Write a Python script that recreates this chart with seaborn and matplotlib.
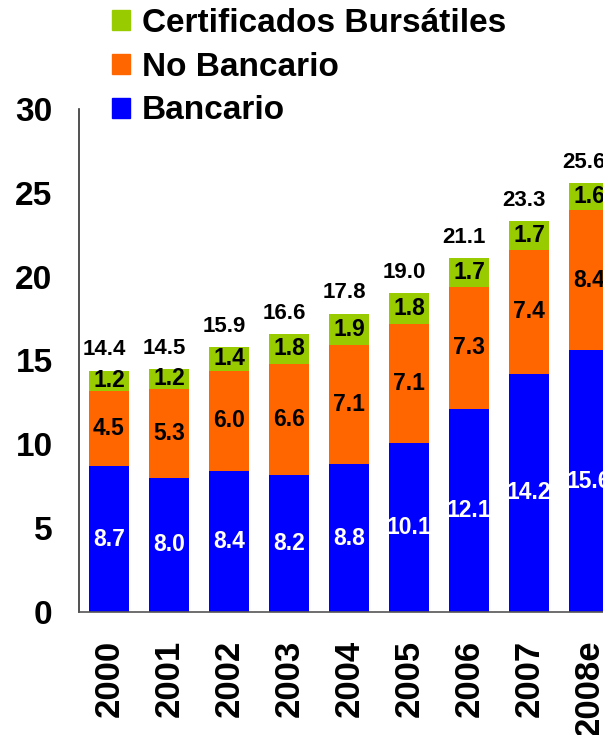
import pandas as pd
import numpy as np
import matplotlib
matplotlib.use("Agg")
import matplotlib.pyplot as plt
from matplotlib.patches import Patch
import seaborn as sns

# Données
annees = ["2000", "2001", "2002", "2003", "2004", "2005", "2006", "2007", "2008e"]
bancario = [8.7, 8.0, 8.4, 8.2, 8.8, 10.1, 12.1, 14.2, 15.6]
no_bancario = [4.5, 5.3, 6.0, 6.6, 7.1, 7.1, 7.3, 7.4, 8.4]
certificados = [1.2, 1.2, 1.4, 1.8, 1.9, 1.8, 1.7, 1.7, 1.6]
totales = [14.4, 14.5, 15.9, 16.6, 17.8, 19.0, 21.1, 23.3, 25.6]

col_cert = "#99CC00"
col_nob = "#FF6600"
col_ban = "#0000FF"

df = pd.DataFrame({
    "Año": annees,
    "Bancario": bancario,
    "No Bancario": no_bancario,
    "Certificados": certificados,
})
df["nivel2"] = df["Bancario"] + df["No Bancario"]
df["nivel3"] = df["nivel2"] + df["Certificados"]

sns.set_style("white")
plt.rcParams["font.family"] = ["Liberation Sans", "DejaVu Sans"]
plt.rcParams["font.weight"] = "bold"
plt.rcParams["text.color"] = "black"
plt.rcParams["xtick.labelcolor"] = "black"
plt.rcParams["ytick.labelcolor"] = "black"

fig = plt.figure(figsize=(6.03, 7.35), dpi=100)
ax = fig.add_axes([79 / 603, 123 / 735, 540 / 603, 503 / 735])

# Barres empilées (de l'arrière vers l'avant)
ancho = 0.68
sns.barplot(data=df, x="Año", y="nivel3", order=annees, color=col_cert,
            width=ancho, saturation=1, linewidth=0, ax=ax)
sns.barplot(data=df, x="Año", y="nivel2", order=annees, color=col_nob,
            width=ancho, saturation=1, linewidth=0, ax=ax)
sns.barplot(data=df, x="Año", y="Bancario", order=annees, color=col_ban,
            width=ancho, saturation=1, linewidth=0, ax=ax)

# Étiquettes
for i, row in df.iterrows():
    ax.text(i, row["Bancario"] / 2, f"{row['Bancario']:.1f}", ha="center", va="center",
            color="white", fontsize=16.5, fontweight="bold")
    ax.text(i, row["Bancario"] + row["No Bancario"] / 2, f"{row['No Bancario']:.1f}",
            ha="center", va="center", color="black", fontsize=16.5, fontweight="bold")
    ax.text(i, row["nivel2"] + row["Certificados"] / 2, f"{row['Certificados']:.1f}",
            ha="center", va="center", color="black", fontsize=16.5, fontweight="bold")
    ax.text(i - 0.08, row["nivel3"] + 0.9, f"{totales[i]:.1f}", ha="center", va="baseline",
            color="black", fontsize=16, fontweight="bold")

ax.set_xlim(-0.5, 8.5)
ax.set_ylim(0, 30)
ax.set_yticks([0, 5, 10, 15, 20, 25, 30])
ax.set_xlabel("")
ax.set_ylabel("")

ax.set_xticks(range(len(annees)))
ax.set_xticklabels(annees, rotation=90, fontsize=25, fontweight="bold")
ax.set_xticks(np.arange(-0.5, 9, 1), minor=True)
ax.tick_params(axis="x", which="major", length=0, pad=20)
ax.tick_params(axis="x", which="minor", length=8, width=1.2, color="#555555", direction="out")
ax.tick_params(axis="y", length=8, width=1.2, color="#333333", direction="out",
               labelsize=24, pad=11)
for lab in ax.get_yticklabels():
    lab.set_fontweight("bold")

sns.despine(ax=ax)
ax.spines["left"].set_color("#333333")
ax.spines["bottom"].set_color("#555555")
ax.spines["left"].set_linewidth(1.2)
ax.spines["bottom"].set_linewidth(1.2)

handles = [Patch(color=col_cert, label="Certificados Bursátiles"),
           Patch(color=col_nob, label="No Bancario"),
           Patch(color=col_ban, label="Bancario")]
fig.legend(handles=handles, loc="upper left", bbox_to_anchor=(112 / 603, 1 - 8 / 735),
           frameon=False, borderpad=0, borderaxespad=0, handlelength=0.55,
           handleheight=0.55, handletextpad=0.35, labelspacing=0.38,
           prop={"size": 24, "weight": "bold"})

fig.savefig("out.png", dpi=100)
